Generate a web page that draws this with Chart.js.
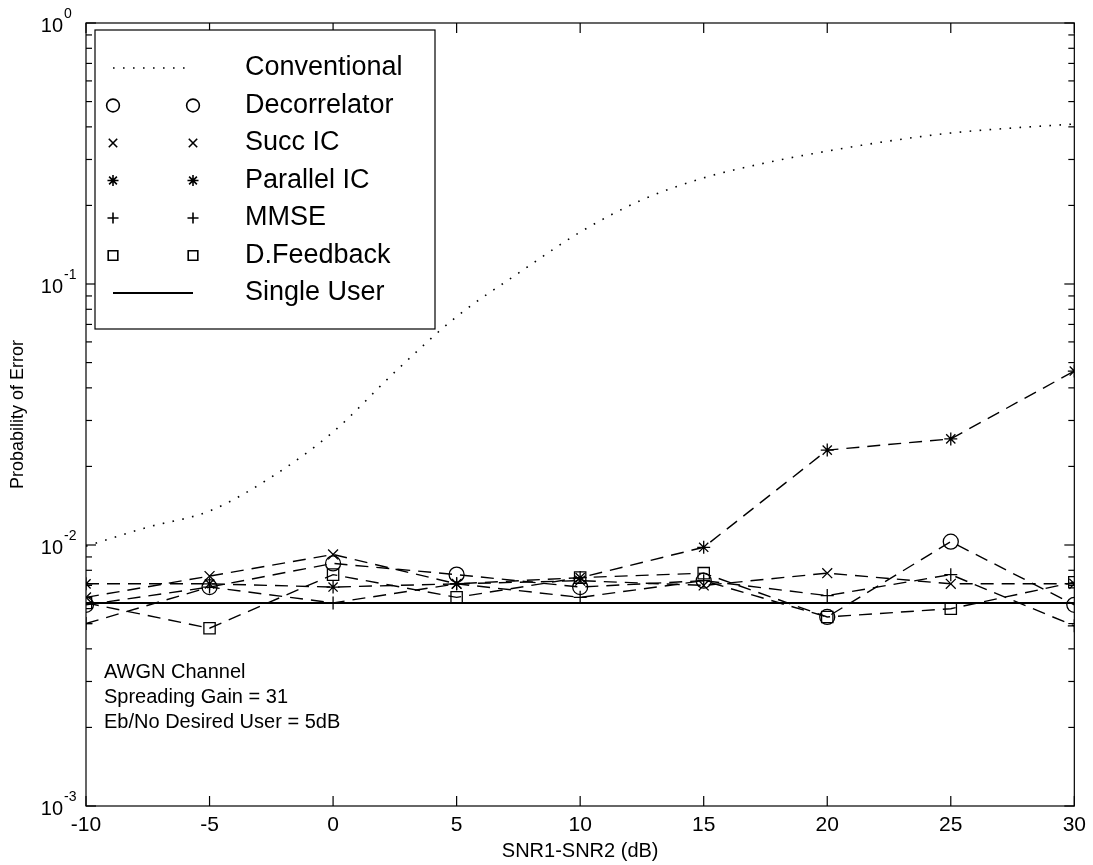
<!DOCTYPE html>
<html lang="en">
<head>
    <meta charset="UTF-8">
    <title>Probability of Error vs SNR1-SNR2</title>
    <script src="https://cdn.jsdelivr.net/npm/chart.js@4.4.0/dist/chart.umd.min.js"></script>
    <style>
        body {
            margin: 0;
            background: #fff;
        }
        #wrap {
            width: 1093px;
            height: 865px;
        }
    </style>
</head>
<body>
<div id="wrap"><canvas id="ber" width="1093" height="865"></canvas></div>
<script>
    // SNR difference between the two users (dB)
    const snr = [-10, -5, 0, 5, 10, 15, 20, 25, 30];
    // conventional detector is plotted as a smooth curve, read at 2.5 dB steps
    const convSnr = [-10, -7.5, -5, -2.5, 0, 2.5, 5, 7.5, 10, 12.5, 15, 17.5, 20, 22.5, 25, 27.5, 30];
    const conventional = [0.0099, 0.0117, 0.0135, 0.0182, 0.0271, 0.046, 0.075, 0.110, 0.158, 0.21, 0.255, 0.291, 0.323, 0.353, 0.379, 0.396, 0.41];

    const decorrelator = [0.0059, 0.0069, 0.0085, 0.0077, 0.0069, 0.0073, 0.0053, 0.0103, 0.0059];
    const succIC = [0.0063, 0.0076, 0.0092, 0.0071, 0.0073, 0.0070, 0.0078, 0.0071, 0.0071];
    const parallelIC = [0.0071, 0.0071, 0.0069, 0.0071, 0.0075, 0.0098, 0.0231, 0.0255, 0.0464];
    const mmse = [0.0050, 0.0069, 0.0060, 0.0071, 0.0063, 0.0073, 0.0064, 0.0077, 0.0049];
    const dFeedback = [0.0060, 0.0048, 0.0077, 0.0063, 0.0075, 0.0078, 0.0053, 0.0057, 0.0072];
    const singleUser = [0.006, 0.006, 0.006, 0.006, 0.006, 0.006, 0.006, 0.006, 0.006];

    const xTickLabels = ['-10', '-5', '0', '5', '10', '15', '20', '25', '30'];
    const yDecades = [0.001, 0.01, 0.1, 1];
    const yTickExp = ['-3', '-2', '-1', '0'];

    const legendLabels = ['Conventional', 'Decorrelator', 'Succ IC', 'Parallel IC', 'MMSE', 'D.Feedback', 'Single User'];
    const noteLines = ['AWGN Channel', 'Spreading Gain = 31', 'Eb/No Desired User = 5dB'];

    const FONT = '"Liberation Sans", Arial, Helvetica, sans-serif';
    const DASH = [13, 8];

    function pts(xs, ys) {
        return xs.map((v, i) => ({x: v, y: ys[i]}));
    }

    function markerSet(label, data, style, radius) {
        return {
            label: label,
            data: pts(snr, data),
            borderColor: '#000',
            borderWidth: 1.4,
            borderDash: DASH,
            pointStyle: style,
            pointRadius: radius,
            pointBorderWidth: 1.3,
            pointBorderColor: '#000',
            pointBackgroundColor: 'rgba(0,0,0,0)',
            tension: 0
        };
    }

    const datasets = [
        {
            label: legendLabels[0],
            data: pts(convSnr, conventional),
            borderColor: '#000',
            borderWidth: 1.6,
            borderDash: [1.6, 8.4],
            pointRadius: 0,
            cubicInterpolationMode: 'monotone'
        },
        markerSet(legendLabels[1], decorrelator, 'circle', 7.5),
        markerSet(legendLabels[2], succIC, 'crossRot', 7),
        markerSet(legendLabels[3], parallelIC, 'star', 6.5),
        markerSet(legendLabels[4], mmse, 'cross', 6.5),
        markerSet(legendLabels[5], dFeedback, 'rect', 8),
        {
            label: legendLabels[6],
            data: pts(snr, singleUser),
            borderColor: '#000',
            borderWidth: 2,
            pointRadius: 0
        }
    ];

    function seg(ctx, x1, y1, x2, y2) {
        ctx.beginPath();
        ctx.moveTo(x1, y1);
        ctx.lineTo(x2, y2);
        ctx.stroke();
    }

    // box, inward ticks, power-of-ten labels, axis titles, legend and the note
    const matlabAxes = {
        id: 'matlabAxes',
        afterDraw(chart) {
            const ctx = chart.ctx;
            const a = chart.chartArea;
            const xs = chart.scales.x;
            const ys = chart.scales.y;
            ctx.save();
            ctx.strokeStyle = '#000';
            ctx.fillStyle = '#000';
            ctx.lineWidth = 1.2;
            ctx.setLineDash([]);
            ctx.strokeRect(a.left, a.top, a.right - a.left, a.bottom - a.top);

            // x ticks on top and bottom
            snr.forEach(v => {
                const px = xs.getPixelForValue(v);
                seg(ctx, px, a.bottom, px, a.bottom - 10);
                seg(ctx, px, a.top, px, a.top + 10);
            });

            // y ticks: decades long, 2..9 short
            yDecades.forEach((d, i) => {
                const py = ys.getPixelForValue(d);
                seg(ctx, a.left, py, a.left + 10, py);
                seg(ctx, a.right, py, a.right - 10, py);
                ctx.textBaseline = 'middle';
                ctx.textAlign = 'right';
                ctx.font = '20px ' + FONT;
                ctx.fillText('10', 63, py + 3);
                ctx.textAlign = 'left';
                ctx.font = '14px ' + FONT;
                ctx.fillText(yTickExp[i], 64, py - 9);
                if (i < yDecades.length - 1) {
                    for (let m = 2; m <= 9; m++) {
                        const pm = ys.getPixelForValue(d * m);
                        seg(ctx, a.left, pm, a.left + 6, pm);
                        seg(ctx, a.right, pm, a.right - 6, pm);
                    }
                }
            });

            // axis titles
            ctx.font = '20px ' + FONT;
            ctx.textAlign = 'center';
            ctx.textBaseline = 'middle';
            ctx.fillText('SNR1-SNR2 (dB)', (a.left + a.right) / 2, 851);
            ctx.save();
            ctx.translate(18, (a.top + a.bottom) / 2);
            ctx.rotate(-Math.PI / 2);
            ctx.font = '18px ' + FONT;
            ctx.fillText('Probability of Error', 0, 0);
            ctx.restore();

            // note in the lower left corner
            ctx.font = '20px ' + FONT;
            ctx.textAlign = 'left';
            noteLines.forEach((t, i) => ctx.fillText(t, 104, 672 + i * 25));

            // legend
            const lx = 95, ly = 30, lw = 340, lh = 299;
            ctx.fillStyle = '#fff';
            ctx.fillRect(lx, ly, lw, lh);
            ctx.lineWidth = 1.2;
            ctx.strokeRect(lx, ly, lw, lh);
            chart.data.datasets.forEach((ds, i) => {
                const ry = 68 + i * 37.5;
                ctx.strokeStyle = '#000';
                if (ds.pointRadius > 0) {
                    ctx.fillStyle = 'rgba(0,0,0,0)';
                    const opt = {pointStyle: ds.pointStyle, radius: ds.pointRadius * 0.85, borderWidth: 1.2, rotation: 0};
                    Chart.helpers.drawPoint(ctx, opt, 113, ry);
                    Chart.helpers.drawPoint(ctx, opt, 193, ry);
                } else {
                    ctx.lineWidth = ds.borderWidth;
                    ctx.setLineDash(ds.borderDash || []);
                    seg(ctx, 113, ry, 193, ry);
                    ctx.setLineDash([]);
                }
                ctx.fillStyle = '#000';
                ctx.font = '27px ' + FONT;
                ctx.textAlign = 'left';
                ctx.textBaseline = 'middle';
                ctx.fillText(ds.label, 245, ry);
            });
            ctx.restore();
        }
    };

    new Chart(document.getElementById('ber'), {
        type: 'line',
        data: {datasets: datasets},
        options: {
            responsive: false,
            animation: false,
            devicePixelRatio: 1,
            layout: {padding: {top: 23, right: 18, left: 0, bottom: 0}},
            plugins: {
                legend: {display: false},
                tooltip: {enabled: false}
            },
            scales: {
                x: {
                    type: 'linear',
                    min: -10,
                    max: 30,
                    afterFit: s => { s.height = 59; },
                    grid: {display: false, drawTicks: false},
                    border: {display: false},
                    ticks: {
                        stepSize: 5,
                        padding: 7,
                        color: '#000',
                        font: {family: FONT, size: 21},
                        callback: v => xTickLabels[snr.indexOf(v)]
                    }
                },
                y: {
                    type: 'logarithmic',
                    min: 0.001,
                    max: 1,
                    afterFit: s => { s.width = 86; },
                    grid: {display: false, drawTicks: false},
                    border: {display: false},
                    ticks: {display: false}
                }
            }
        },
        plugins: [matlabAxes]
    });
</script>
</body>
</html>
